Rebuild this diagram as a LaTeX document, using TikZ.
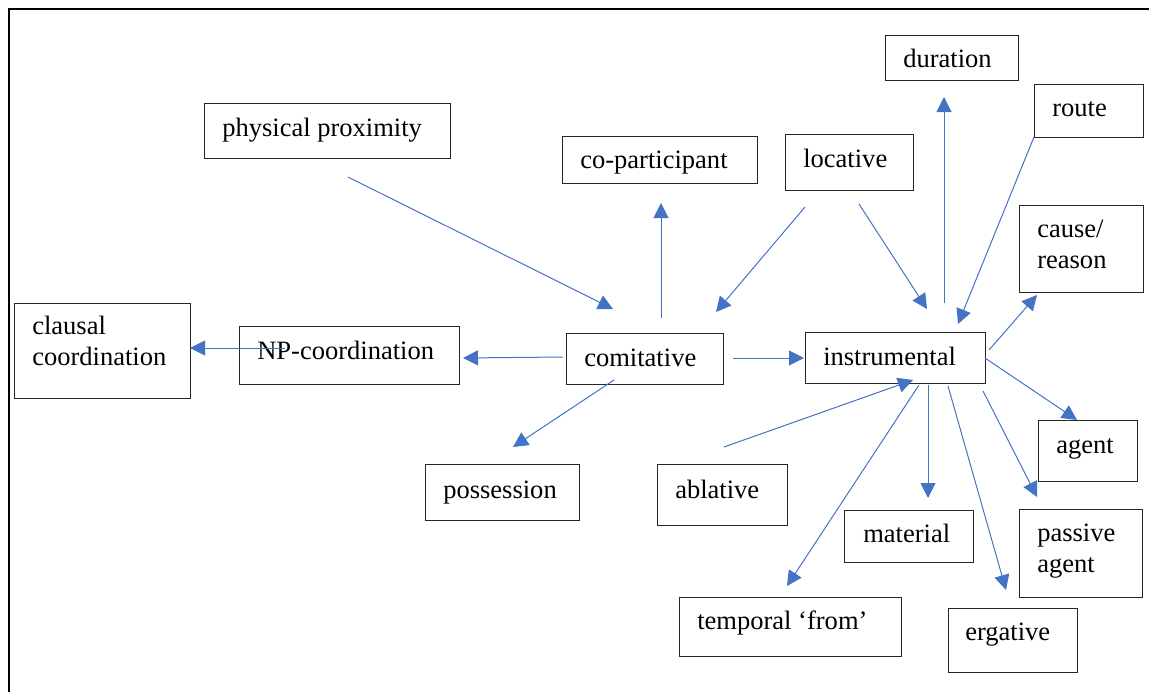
\documentclass[tikz,border=0pt]{standalone}
\usepackage{fontspec}
\setmainfont{Liberation Serif}
\usetikzlibrary{arrows.meta,fit}
\definecolor{arrblue}{HTML}{4472C4}
\tikzset{
  box/.style={draw=black!85, line width=0.75pt, inner sep=0pt},
  lbl/.style={inner sep=0pt, anchor=base west, font=\fontsize{19.9}{23.1}\selectfont, align=left},
  arr/.style={draw=arrblue, line width=0.75pt, -{Triangle[length=11.25pt,width=11.25pt]}},
  frameline/.style={line width=1.5pt, draw=black}
}
\newcommand\mkbox[8]{%
  \node[box, fit={(#2,#3) (#4,#5)}] (#1) {};
  \node[lbl] (#1-txt) at (#6,#7) {#8};}
\begin{document}
\begin{tikzpicture}[x=0.75pt,y=-0.75pt]
\useasboundingbox (0,0) rectangle (1149,692);
% frame
\coordinate (fa) at (9.3,692);
\coordinate (fb) at (9.3,9.3);
\coordinate (fc) at (1149,9.3);
\draw[frameline] (fa) -- (fb) -- (fc);
% boxes (multi-line labels: anchor at last baseline)
\mkbox{phys}{204}{103}{450}{158}{222}{137}{physical proximity}
\mkbox{dur}{885}{36}{1018}{81}{903}{68}{duration}
\mkbox{route}{1034}{85}{1143}{137}{1052}{117}{route}
\mkbox{copart}{562}{136}{757}{183}{580}{168}{co-participant}
\mkbox{loc}{785}{134}{913}{190}{803}{167}{locative}
\mkbox{cause}{1019}{205}{1143}{292}{1037}{268}{cause/\\reason}
\mkbox{instr}{805}{332}{985}{383}{823}{365}{instrumental}
\mkbox{comit}{566}{333}{723}{384}{584}{366}{comitative}
\mkbox{npc}{239}{326}{459}{384}{257}{359}{NP-coordination}
\mkbox{clc}{14}{303}{190}{398}{32}{365}{clausal\\coordination}
\mkbox{poss}{425}{464}{579}{520}{443}{498}{possession}
\mkbox{abl}{657}{464}{787}{525}{675}{498}{ablative}
\mkbox{mat}{844}{510}{973}{562}{863}{542}{material}
\mkbox{temp}{679}{597}{901}{656}{697}{629}{temporal ‘from’}
\mkbox{erg}{948}{608}{1077}{672}{965}{640}{ergative}
\mkbox{pass}{1019}{509}{1142}{597}{1037}{572}{passive\\agent}
\mkbox{agent}{1038}{420}{1137}{481}{1056}{453}{agent}
% connector end points
\coordinate (physS) at (348,177);  \coordinate (comitN1) at (613,309);
\coordinate (comitU) at (661,318); \coordinate (copartD) at (661,203);
\coordinate (locSW) at (805,207);  \coordinate (comitNE) at (716,312);
\coordinate (locSE) at (859,204);  \coordinate (instrNW) at (927,309);
\coordinate (instrU) at (944,303); \coordinate (durD) at (944,97);
\coordinate (routeSW) at (1034,137); \coordinate (instrNE) at (958,324);
\coordinate (instrE1) at (989,350); \coordinate (causeD) at (1037,295);
\coordinate (instrE2) at (985,358); \coordinate (agentU) at (1077,420);
\coordinate (instrSE) at (983,391); \coordinate (passU) at (1037,497);
\coordinate (instrS3) at (948,386); \coordinate (ergU) at (1006,590);
\coordinate (instrS2) at (928,385); \coordinate (matU) at (928,498);
\coordinate (instrS1) at (919,385); \coordinate (tempU) at (787,586);
\coordinate (ablNE) at (724,447);  \coordinate (instrSW) at (913,380);
\coordinate (comitE) at (733,358); \coordinate (instrW) at (804,358);
\coordinate (comitW) at (563,357); \coordinate (npcE) at (463,358);
\coordinate (npcIn) at (285,348);  \coordinate (clcE) at (190,348);
\coordinate (comitS) at (614,380); \coordinate (possU) at (513,447);
% connectors
\draw[arr] (physS) -- (comitN1);
\draw[arr] (comitU) -- (copartD);
\draw[arr] (locSW) -- (comitNE);
\draw[arr] (locSE) -- (instrNW);
\draw[arr] (instrU) -- (durD);
\draw[arr] (routeSW) -- (instrNE);
\draw[arr] (instrE1) -- (causeD);
\draw[arr] (instrE2) -- (agentU);
\draw[arr] (instrSE) -- (passU);
\draw[arr] (instrS3) -- (ergU);
\draw[arr] (instrS2) -- (matU);
\draw[arr] (instrS1) -- (tempU);
\draw[arr] (ablNE) -- (instrSW);
\draw[arr] (comitE) -- (instrW);
\draw[arr] (comitW) -- (npcE);
\draw[arr] (npcIn) -- (clcE);
\draw[arr] (comitS) -- (possU);
\end{tikzpicture}
\end{document}
